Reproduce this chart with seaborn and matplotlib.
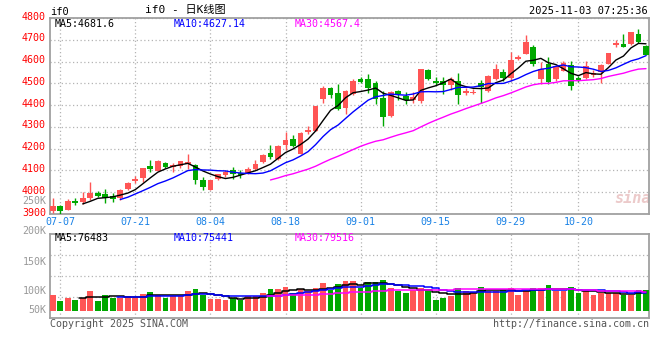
import numpy as np
import pandas as pd
import seaborn as sns
import matplotlib.pyplot as plt
from matplotlib.transforms import ScaledTranslation

RED = "#ff5555"
GREEN = "#00a800"
GRID = "#b4b4b4"
FRAME = "#a0a0a0"

# trading days 07-04 .. 10-31 (National Day holiday removed)
dates = pd.bdate_range("2025-07-04", "2025-10-31")
dates = dates[~((dates >= "2025-10-01") & (dates <= "2025-10-08"))]

opens = [3913, 3936, 3919, 3959, 3954, 3972, 3995, 3991, 3982, 3972,
         4014, 4052, 4064, 4119, 4099, 4136, 4115, 4121, 4130, 4124,
         4058, 4011, 4060, 4077, 4100, 4089, 4085, 4105, 4137, 4178,
         4151, 4218, 4243, 4177, 4277, 4281, 4426, 4478, 4455, 4385,
         4451, 4520, 4520, 4500, 4434, 4352, 4465, 4440, 4424, 4419,
         4561, 4512, 4511, 4492, 4512, 4454, 4455, 4500, 4465, 4519,
         4552, 4524, 4613, 4636, 4666, 4520, 4588, 4520, 4558, 4582,
         4524, 4524, 4540, 4552, 4590, 4674, 4680, 4680, 4728, 4672]
highs = [3975, 3942, 3968, 3975, 4001, 4046, 4006, 4014, 3998, 4015,
         4047, 4073, 4110, 4147, 4147, 4138, 4136, 4142, 4174, 4128,
         4069, 4056, 4085, 4103, 4118, 4100, 4115, 4146, 4177, 4215,
         4215, 4277, 4261, 4277, 4303, 4397, 4489, 4483, 4497, 4469,
         4520, 4531, 4543, 4511, 4466, 4466, 4469, 4462, 4462, 4566,
         4566, 4531, 4531, 4528, 4549, 4477, 4475, 4515, 4540, 4588,
         4567, 4645, 4628, 4720, 4677, 4598, 4619, 4581, 4604, 4604,
         4532, 4604, 4560, 4590, 4639, 4700, 4726, 4735, 4749, 4677]
lows = [3905, 3902, 3917, 3943, 3948, 3966, 3980, 3951, 3956, 3966,
        4012, 4044, 4049, 4093, 4097, 4113, 4093, 4113, 4108, 4037,
        4012, 4009, 4057, 4072, 4062, 4066, 4085, 4100, 4135, 4154,
        4150, 4192, 4208, 4174, 4269, 4280, 4408, 4434, 4377, 4361,
        4446, 4500, 4454, 4405, 4304, 4344, 4424, 4405, 4408, 4411,
        4515, 4492, 4451, 4469, 4405, 4446, 4450, 4411, 4460, 4515,
        4512, 4512, 4605, 4636, 4578, 4498, 4497, 4509, 4555, 4471,
        4506, 4520, 4530, 4501, 4588, 4669, 4665, 4678, 4683, 4628]
closes = [3936, 3914, 3960, 3950, 3972, 3995, 3983, 3975, 3969, 4012,
          4041, 4063, 4109, 4105, 4142, 4116, 4124, 4142, 4139, 4058,
          4025, 4054, 4082, 4095, 4085, 4077, 4105, 4131, 4169, 4162,
          4211, 4238, 4212, 4272, 4286, 4397, 4480, 4446, 4381, 4466,
          4511, 4508, 4480, 4427, 4347, 4462, 4451, 4422, 4436, 4566,
          4520, 4500, 4492, 4520, 4446, 4466, 4462, 4485, 4534, 4568,
          4524, 4607, 4620, 4689, 4590, 4567, 4507, 4578, 4593, 4486,
          4512, 4578, 4548, 4585, 4639, 4686, 4668, 4735, 4689, 4630]
volumes = [65800, 42000, 54600, 46200, 53200, 84000, 42000, 65800, 53200, 54600,
           63000, 53200, 70000, 79800, 64400, 53200, 61600, 63000, 84000, 91000,
           64400, 49000, 49000, 46200, 54600, 43400, 63000, 61600, 74200, 91000,
           91000, 100800, 74200, 91000, 82600, 95200, 117600, 86800, 112000, 124600,
           124600, 93800, 120400, 120400, 128800, 95200, 82600, 74200, 88200, 96600,
           86800, 44800, 54600, 61600, 95200, 84000, 79800, 99400, 81200, 81200,
           86800, 95200, 67200, 81200, 95200, 95200, 107800, 81200, 81200, 99400,
           74800, 81800, 66400, 74800, 74800, 74200, 67200, 67200, 87000, 87000]

# legend values as printed on the chart
price_ma_text = ["4681.6", "4627.14", "4567.4"]
vol_ma_text = ["76483", "75441", "79516"]

tick_dates = ["07-07", "07-21", "08-04", "08-18", "09-01", "09-15", "09-29", "10-20"]
price_ticks = [3900, 4000, 4100, 4200, 4300, 4400, 4500, 4600, 4700, 4800]
vol_labels = ["50K", "100K", "150K", "200K", "250K"]

df = pd.DataFrame({"date": dates, "open": opens, "high": highs, "low": lows,
                   "close": closes, "volume": volumes})
df["idx"] = np.arange(len(df))
df["dir"] = np.where(df["close"] >= df["open"], "up", "down")
for w in (5, 10, 30):
    df[f"ma{w}"] = df["close"].rolling(w).mean()
    df[f"vma{w}"] = df["volume"].rolling(w).mean()
colors = np.where(df["dir"] == "up", RED, GREEN)
ma_colors = {5: "black", 10: "#0000ff", 30: "#ff00ff"}

sns.set_theme(style="white")
plt.rcParams["font.family"] = ["DejaVu Sans Mono", "Noto Sans CJK SC"]
plt.rcParams["font.size"] = 7

fig = plt.figure(figsize=(6.6, 3.6), dpi=100)
axp = fig.add_axes([50 / 660, 1 - 214 / 360, 599 / 660, 196 / 360])
axv = fig.add_axes([50 / 660, 1 - 318 / 360, 599 / 660, 84 / 360])

# candles
axp.vlines(df["idx"], df["low"], df["high"], colors=colors, lw=1, zorder=3)
body = np.maximum((df["close"] - df["open"]).abs(), 2.5)
axp.bar(df["idx"], body, bottom=np.minimum(df["open"], df["close"]),
        width=0.76, color=colors, linewidth=0, zorder=3)

for w, c in ma_colors.items():
    sns.lineplot(data=df, x="idx", y=f"ma{w}", color=c, lw=1, ax=axp, zorder=4)

# volume
sns.barplot(data=df, x="idx", y="volume", hue="dir", palette={"up": RED, "down": GREEN},
            dodge=False, width=0.76, saturation=1, linewidth=0, legend=False, ax=axv,
            zorder=3)
for w, c in ma_colors.items():
    axv.plot(df["idx"], df[f"vma{w}"], color=c, lw=1.1, drawstyle="steps-mid", zorder=4)

tick_pos = [int(np.where(df["date"].dt.strftime("%m-%d") == d)[0][0]) for d in tick_dates]

for ax in (axp, axv):
    ax.set_xlim(-0.36, 79.4)
    ax.set_xticks(tick_pos)
    ax.set_xlabel("")
    ax.set_ylabel("")
    ax.grid(True, color=GRID, ls=(0, (1, 2)), lw=0.9)
    for s in ax.spines.values():
        s.set_color(FRAME)
        s.set_linewidth(1.3)
    ax.tick_params(length=0)

axp.set_ylim(3900, 4800)
axp.set_yticks(price_ticks)
axp.set_xticklabels(tick_dates)
axp.tick_params(axis="y", colors="#ff0000", labelsize=7.2, pad=3)
axp.tick_params(axis="x", colors="#1a82e6", labelsize=7.2, pad=2)
up2 = ScaledTranslation(0, 2.5 / 100, fig.dpi_scale_trans)
for lab in axp.get_yticklabels():
    lab.set_transform(lab.get_transform() + up2)

vol_lo, vol_hi = -30700, 322000
axv.set_ylim(vol_lo, vol_hi)
axv.set_yticks([vol_lo + f * (vol_hi - vol_lo) for f in (0.25, 0.5, 0.75)])
axv.set_yticklabels([])
axv.set_xticklabels([])
for lab, f in zip(vol_labels, (0.095, 0.32, 0.667, 1.036, 1.393)):
    axv.text(-0.006, f, lab, transform=axv.transAxes, ha="right", va="center",
             color="#999999", fontsize=7.2, clip_on=False)

# MA legends
for ax, texts, y in ((axp, price_ma_text, 0.968), (axv, vol_ma_text, 0.952)):
    for (w, c), t, xf in zip(ma_colors.items(), texts, (0.007, 0.207, 0.409)):
        ax.text(xf, y, f"MA{w}:{t}", transform=ax.transAxes, ha="left", va="center",
                color=c, fontsize=7.2)

axp.text(0.972, 0.08, "sina", transform=axp.transAxes, ha="center", va="center",
         color="#eccaca", fontsize=11, fontstyle="italic", fontweight="bold", zorder=1)

fig.text(50 / 660, 1 - 12 / 360, "if0", ha="left", va="center", fontsize=7.5, color="black")
fig.text(185 / 660, 1 - 10 / 360, "if0 - 日K线图", ha="center", va="center", fontsize=8,
         color="black")
fig.text(648 / 660, 1 - 11 / 360, "2025-11-03 07:25:36", ha="right", va="center",
         fontsize=7.5, color="black")
fig.text(50 / 660, 1 - 324 / 360, "Copyright 2025 SINA.COM", ha="left", va="center",
         fontsize=7.2, color="#555555")
fig.text(649 / 660, 1 - 324 / 360, "http://finance.sina.com.cn", ha="right", va="center",
         fontsize=7.2, color="#555555")

fig.savefig("out.png", dpi=100)
